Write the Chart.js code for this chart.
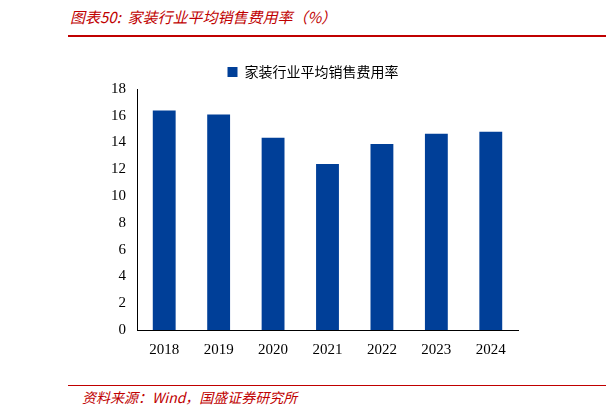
<!DOCTYPE html>
<html><head><meta charset="utf-8">
<script src="https://cdn.jsdelivr.net/npm/chart.js@4"></script>
<style>
body{margin:0;width:606px;height:416px;background:#fff;position:relative;font-family:"Noto Sans CJK SC",sans-serif;overflow:hidden}
#t{position:absolute;left:70px;top:6px;color:#c00000;font-style:italic;font-size:15px}
#l1{position:absolute;left:68px;right:0;top:35px;height:2px;background:#c00000}
#l2{position:absolute;left:68px;right:0;top:385px;height:1px;background:#c00000}
#s{position:absolute;left:82px;top:387px;color:#c00000;font-style:italic;font-size:14px}
#c{position:absolute;left:0;top:55px;width:606px;height:307px}
</style></head><body>
<div id="t">图表50:&nbsp; 家装行业平均销售费用率（%）</div>
<div id="l1"></div>
<div id="c"><canvas id="cv"></canvas></div>
<div id="l2"></div>
<div id="s">资料来源：Wind，国盛证券研究所</div>
<script>
const categories=["2018","2019","2020","2021","2022","2023","2024"];
const values=[16.4,16.1,14.35,12.4,13.9,14.65,14.8];
const seriesName="家装行业平均销售费用率";
new Chart(document.getElementById('cv'),{type:'bar',
data:{labels:categories,datasets:[{label:seriesName,data:values,backgroundColor:'#003f98',barPercentage:0.42,categoryPercentage:1}]},
options:{responsive:true,maintainAspectRatio:false,animation:false,
layout:{padding:{left:108,right:88,top:0,bottom:0}},
plugins:{legend:{labels:{boxWidth:10,boxHeight:10,color:'#000',font:{size:14,family:'"Noto Sans CJK SC"'}}},tooltip:{enabled:false}},
scales:{x:{grid:{display:false},border:{color:'#000'},ticks:{color:'#000',font:{size:15,family:'Liberation Serif'}}},
y:{min:0,max:18,ticks:{stepSize:2,color:'#000',font:{size:15,family:'Liberation Serif'}},grid:{display:false},border:{color:'#000'}}}}});
Chart.register({id:'lgpad',beforeInit(c){const f=c.legend.fit;c.legend.fit=function(){f.bind(c.legend)();this.height+=9;};}});
</script></body></html>
